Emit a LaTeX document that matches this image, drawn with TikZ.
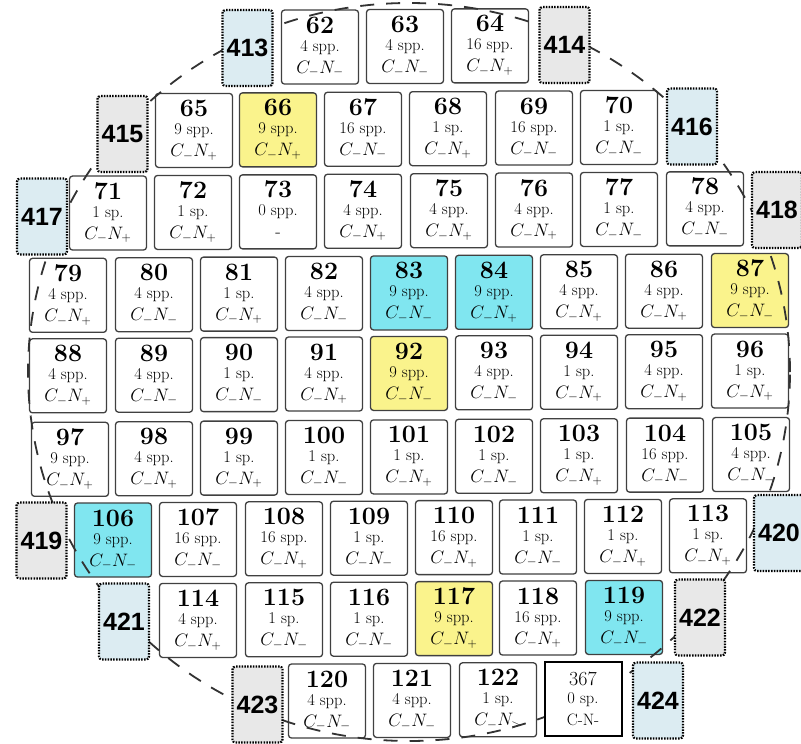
\RequirePackage{fix-cm}
\documentclass[tikz,border=0pt]{standalone}
\usepackage{fontspec}
\newfontfamily\lblfont{Liberation Sans}
\usetikzlibrary{calc}
\definecolor{cyanfill}{RGB}{128,230,240}
\definecolor{yelfill}{RGB}{250,243,140}
\definecolor{lblue}{RGB}{220,236,242}
\definecolor{lgrey}{RGB}{232,232,232}
\newcommand\CNm{$C_-N_-$}
\newcommand\CNp{$C_-N_+$}
\newcommand\wcell[6]{%
  \node[cellsty, fill=#6] (c#1) at ({#2},{#3-0.007*(#2-400)}) {};
  \node[numsty] (n#1) at ([yshift=14pt]c#1.center) {#1};
  \node[sppsty] (s#1) at ([yshift=-4pt]c#1.center) {#4};
  \node[cnsty] (m#1) at ([yshift=-26pt]c#1.center) {#5};
}
\tikzset{
  cellsty/.style={draw=black!75, line width=1.3pt, rounded corners=3pt, fill=white,
    minimum width=77pt, minimum height=74pt, inner sep=0pt},
  numsty/.style={anchor=base, font=\fontsize{25}{25}\selectfont\bfseries, inner sep=0pt},
  sppsty/.style={anchor=base, font=\fontsize{16.5}{16.5}\selectfont, inner sep=0pt},
  cnsty/.style={anchor=base, font=\fontsize{18}{18}\selectfont, inner sep=0pt},
  lblsty/.style={draw=black, line width=2.2pt, dash pattern=on 1.5pt off 1.3pt,
    rounded corners=3pt, minimum width=50pt, minimum height=76pt, inner sep=0pt,
    font=\lblfont\fontsize{25}{25}\selectfont\bfseries},
  circsty/.style={draw=black!80, line width=1.8pt, dash pattern=on 14pt off 12pt}
}
\begin{document}
\begin{tikzpicture}[x=1pt,y=-1pt]
\path[use as bounding box] (0,0) rectangle (801,744);
\clip (0,0) rectangle (801,744);
\fill[white] (0,0) rectangle (801,744);
% row 0
\wcell{62}{320}{46.5}{4 spp.}{\CNm}{white}
\wcell{63}{405}{46.5}{4 spp.}{\CNm}{white}
\wcell{64}{490}{46.5}{16 spp.}{\CNp}{white}
% row 1
\wcell{65}{194}{129}{9 spp.}{\CNp}{white}
\wcell{66}{278}{129}{9 spp.}{\CNp}{yelfill}
\wcell{67}{363}{129}{16 spp.}{\CNm}{white}
\wcell{68}{448}{129}{1 sp.}{\CNp}{white}
\wcell{69}{534}{129}{16 spp.}{\CNm}{white}
\wcell{70}{619}{129}{1 sp.}{\CNm}{white}
% row 2
\wcell{71}{108}{211}{1 sp.}{\CNp}{white}
\wcell{72}{193}{211}{1 sp.}{\CNp}{white}
\wcell{73}{278}{211}{0 spp.}{-}{white}
\wcell{74}{363}{211}{4 spp.}{\CNp}{white}
\wcell{75}{449}{211}{4 spp.}{\CNp}{white}
\wcell{76}{534}{211}{4 spp.}{\CNp}{white}
\wcell{77}{619}{211}{1 sp.}{\CNm}{white}
\wcell{78}{705}{211}{4 spp.}{\CNm}{white}
% row 3
\wcell{79}{68}{293}{4 spp.}{\CNp}{white}
\wcell{80}{154}{293}{4 spp.}{\CNm}{white}
\wcell{81}{239}{293}{1 sp.}{\CNp}{white}
\wcell{82}{324}{293}{4 spp.}{\CNm}{white}
\wcell{83}{409}{293}{9 spp.}{\CNm}{cyanfill}
\wcell{84}{494}{293}{9 spp.}{\CNp}{cyanfill}
\wcell{85}{579}{293}{4 spp.}{\CNp}{white}
\wcell{86}{664}{293}{4 spp.}{\CNp}{white}
\wcell{87}{750}{293}{9 spp.}{\CNm}{yelfill}
% row 4
\wcell{88}{68}{373.5}{4 spp.}{\CNp}{white}
\wcell{89}{154}{373.5}{4 spp.}{\CNm}{white}
\wcell{90}{239}{373.5}{1 sp.}{\CNm}{white}
\wcell{91}{324}{373.5}{4 spp.}{\CNp}{white}
\wcell{92}{409}{373.5}{9 spp.}{\CNm}{yelfill}
\wcell{93}{494}{373.5}{4 spp.}{\CNm}{white}
\wcell{94}{579}{373.5}{1 sp.}{\CNp}{white}
\wcell{95}{664}{373.5}{4 spp.}{\CNp}{white}
\wcell{96}{750}{373.5}{1 sp.}{\CNp}{white}
% row 5
\wcell{97}{70}{457}{9 spp.}{\CNp}{white}
\wcell{98}{154}{457}{4 spp.}{\CNp}{white}
\wcell{99}{239}{457}{1 sp.}{\CNp}{white}
\wcell{100}{324}{457}{1 sp.}{\CNm}{white}
\wcell{101}{409}{457}{1 sp.}{\CNp}{white}
\wcell{102}{494}{457}{1 sp.}{\CNm}{white}
\wcell{103}{579}{457}{1 sp.}{\CNp}{white}
\wcell{104}{665}{457}{16 spp.}{\CNm}{white}
\wcell{105}{751}{457}{4 spp.}{\CNm}{white}
% row 6
\wcell{106}{113}{538}{9 spp.}{\CNm}{cyanfill}
\wcell{107}{198}{538}{16 spp.}{\CNm}{white}
\wcell{108}{284}{538}{16 spp.}{\CNp}{white}
\wcell{109}{369}{538}{1 sp.}{\CNm}{white}
\wcell{110}{454}{538}{16 spp.}{\CNp}{white}
\wcell{111}{538}{538}{1 sp.}{\CNm}{white}
\wcell{112}{623}{538}{1 sp.}{\CNp}{white}
\wcell{113}{708}{538}{1 sp.}{\CNp}{white}
% row 7
\wcell{114}{198}{619}{4 spp.}{\CNp}{white}
\wcell{115}{284}{619}{1 sp.}{\CNm}{white}
\wcell{116}{369}{619}{1 sp.}{\CNm}{white}
\wcell{117}{454}{619}{9 spp.}{\CNp}{yelfill}
\wcell{118}{538}{619}{16 spp.}{\CNp}{white}
\wcell{119}{624}{619}{9 spp.}{\CNm}{cyanfill}
% row 8
\wcell{120}{327}{700.5}{4 spp.}{\CNm}{white}
\wcell{121}{412}{700.5}{4 spp.}{\CNm}{white}
\wcell{122}{498}{700.5}{1 sp.}{$C_-N_>$}{white}
% dashed wafer outline
\draw[circsty] (409,372) ellipse [x radius=381pt, y radius=369pt];
% cell 367 (drawn over the outline)
\node[cellsty, draw=black, line width=2pt, rounded corners=0pt] (c367) at ({583},{700.5-0.007*(583-400)}) {};
\node[anchor=base, inner sep=0pt, font=\fontsize{20}{20}\selectfont] (n367) at ([yshift=14pt]c367.center) {367};
\node[sppsty] (s367) at ([yshift=-4pt]c367.center) {0 sp.};
\node[sppsty] (m367) at ([yshift=-26pt]c367.center) {C-N-};
% label boxes
\node[lblsty, fill=lblue] (l413) at (247.5,48) {413};
\node[lblsty, fill=lgrey] (l414) at (564.5,45) {414};
\node[lblsty, fill=lgrey] (l415) at (122.5,134) {415};
\node[lblsty, fill=lblue] (l416) at (692,126.5) {416};
\node[lblsty, fill=lblue] (l417) at (42,216.5) {417};
\node[lblsty, fill=lgrey] (l418) at (777,210) {418};
\node[lblsty, fill=lgrey] (l419) at (41.5,540.5) {419};
\node[lblsty, fill=lblue] (l420) at (779,533) {420};
\node[lblsty, fill=lblue] (l421) at (124,621.5) {421};
\node[lblsty, fill=lgrey] (l422) at (700,617.5) {422};
\node[lblsty, fill=lgrey] (l423) at (257.5,704.5) {423};
\node[lblsty, fill=lblue] (l424) at (658,700.5) {424};
\end{tikzpicture}
\end{document}
